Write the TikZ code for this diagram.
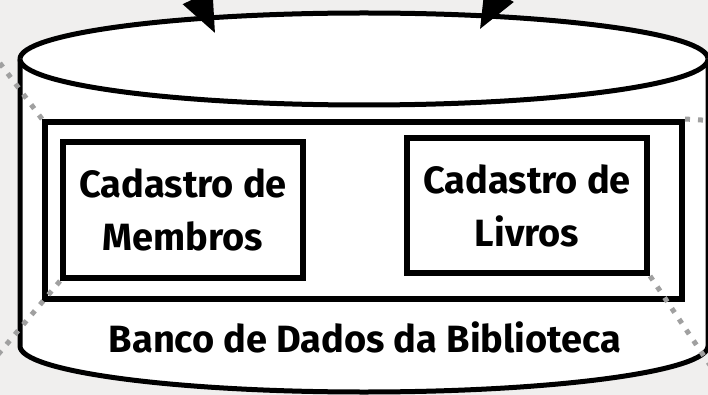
\documentclass[tikz,border=0pt]{standalone}
\usepackage{fontspec}
\setmainfont{Fira Sans}
\usetikzlibrary{arrows.meta}

\definecolor{bgray}{HTML}{F0EFEE}
\definecolor{dotgray}{HTML}{A0A0A0}

\tikzset{
	cyl/.style={draw=black, line width=5pt, fill=white},
	frame/.style={draw=black, line width=6pt, inner sep=0pt},
	box/.style={draw=black, line width=6pt, fill=white, align=center, inner sep=0pt,
		font=\fontsize{38}{53}\selectfont\bfseries},
	lbl/.style={font=\fontsize{38}{44}\selectfont\bfseries, anchor=base},
	zoomline/.style={draw=dotgray, line width=5pt, dash pattern=on 5pt off 8pt},
	bigarrow/.style={line width=4pt, -{Triangle[length=40pt,width=32pt]}}
}

\begin{document}
\begin{tikzpicture}[x=1pt, y=-1pt]
	\useasboundingbox (0,0) rectangle (708,395);
	\clip (0,0) rectangle (708,395);
	\fill[bgray] (0,0) rectangle (708,395);

	% cylinder
	\draw[cyl] (20,59) -- (20,346) arc[start angle=180, end angle=360, x radius=344pt, y radius=46pt]
		-- (708,59) arc[start angle=0, end angle=180, x radius=344pt, y radius=46pt] -- cycle;
	\draw[cyl] (20,59) arc[start angle=180, end angle=360, x radius=344pt, y radius=46pt];

	\node (db) [frame, minimum width=637pt, minimum height=177pt] at (363.5,210.5) {};
	\node (mem) [box, minimum width=240pt, minimum height=136pt] at (183,210) {Cadastro de\\Membros};
	\node (liv) [box, minimum width=240pt, minimum height=135pt] at (527,205.5) {Cadastro de\\Livros};
	\node (name) [lbl] at (365,352) {Banco de Dados da Biblioteca};

	% arrows in from above
	\coordinate (in1) at (167,-66);
	\coordinate (t1) at (215,33);
	\coordinate (in2) at (528,-58);
	\coordinate (t2) at (480,29);
	\draw[bigarrow] (in1) -- (t1);
	\draw[bigarrow] (in2) -- (t2);

	% zoom lines
	\coordinate (z1) at (-10,50);
	\coordinate (z2) at (-10,364);
	\coordinate (z3) at (718,377);
	\coordinate (z4) at (718,121);
	\draw[zoomline] (db.north west) -- (z1);
	\draw[zoomline] (mem.south west) -- (z2);
	\draw[zoomline] (liv.south east) -- (z3);
	\draw[zoomline] (db.north east) -- (z4);
\end{tikzpicture}
\end{document}
